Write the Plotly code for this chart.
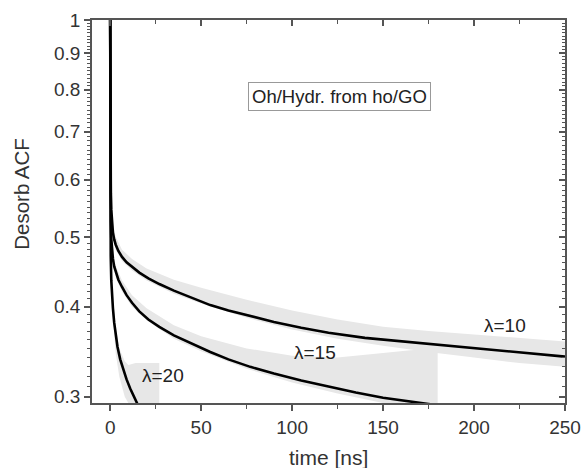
import numpy as np
import plotly.graph_objects as go

# Fitted curves (black)
t10 = [0, 0.05, 0.1, 0.2, 0.35, 0.6, 1, 1.5, 2.2, 3, 4.5, 6.5, 9, 12, 16, 21, 27, 35, 45, 55, 65, 77, 90, 105, 120, 140, 160, 180, 200, 225, 250]
v10 = [1.0, 0.8, 0.7, 0.62, 0.575, 0.545, 0.522, 0.507, 0.496, 0.488, 0.478, 0.469, 0.461, 0.454, 0.446, 0.438, 0.43, 0.421, 0.411, 0.402, 0.395, 0.388, 0.381, 0.374, 0.368, 0.362, 0.358, 0.354, 0.35, 0.345, 0.341]

t15 = [0, 0.05, 0.1, 0.2, 0.35, 0.6, 1, 1.5, 2.2, 3, 4.5, 6.5, 9, 12, 16, 21, 27, 35, 45, 55, 65, 77, 90, 105, 120, 135, 150, 165, 175, 185]
v15 = [1.0, 0.75, 0.65, 0.57, 0.525, 0.497, 0.479, 0.466, 0.455, 0.447, 0.436, 0.426, 0.415, 0.405, 0.394, 0.384, 0.375, 0.365, 0.355, 0.346, 0.338, 0.33, 0.323, 0.316, 0.31, 0.304, 0.299, 0.295, 0.293, 0.291]

t20 = [0, 0.03, 0.08, 0.15, 0.3, 0.6, 1, 1.5, 2.2, 3, 4, 5.5, 7, 9, 11, 13, 15, 17]
v20 = [1.0, 0.75, 0.6, 0.52, 0.47, 0.435, 0.415, 0.398, 0.38, 0.365, 0.352, 0.338, 0.328, 0.317, 0.308, 0.3, 0.293, 0.287]

# Raw simulation data envelopes (grey noise bands)
g10_t = [0, 0.3, 1, 3, 6.5, 12, 20, 35, 50, 75, 100, 125, 150, 175, 200, 225, 250]
g10_lo = [1.0, 0.56, 0.51, 0.48, 0.463, 0.449, 0.435, 0.417, 0.404, 0.386, 0.372, 0.361, 0.353, 0.346, 0.34, 0.334, 0.33]
g10_hi = [1.0, 0.60, 0.53, 0.50, 0.48, 0.466, 0.452, 0.436, 0.425, 0.409, 0.395, 0.384, 0.375, 0.37, 0.366, 0.362, 0.358]

g15_t = [0, 0.3, 1, 3, 6.5, 12, 20, 35, 50, 75, 100, 125, 150, 165, 180]
g15_lo = [1.0, 0.52, 0.47, 0.44, 0.42, 0.40, 0.383, 0.361, 0.347, 0.328, 0.314, 0.303, 0.294, 0.294, 0.294]
g15_hi = [1.0, 0.55, 0.49, 0.456, 0.435, 0.415, 0.398, 0.377, 0.364, 0.35, 0.342, 0.34, 0.345, 0.348, 0.35]

g20_t = [0, 0.3, 1, 3, 5, 8, 10, 14, 20, 27]
g20_lo = [1.0, 0.45, 0.40, 0.345, 0.32, 0.30, 0.294, 0.294, 0.294, 0.294]
g20_hi = [1.0, 0.49, 0.43, 0.375, 0.35, 0.336, 0.332, 0.334, 0.334, 0.334]

x_ticks = [0, 50, 100, 150, 200, 250]
x_minor = [25, 75, 125, 175, 225]
y_ticks = [0.3, 0.4, 0.5, 0.6, 0.7, 0.8, 0.9, 1.0]
y_labels = ["0.3", "0.4", "0.5", "0.6", "0.7", "0.8", "0.9", "1"]
y_minor = [round(0.30 + 0.01 * i, 2) for i in range(71)]

labels = [("λ=10", 217, 0.377), ("λ=15", 112.6, 0.345), ("λ=20", 29, 0.3214)]
box_text = "Oh/Hydr. from ho/GO"
x_title = "time [ns]"
y_title = "Desorb ACF"

GREY = "#e7e7e7"
AX = "#555555"
FONT = "Liberation Sans, Arial, sans-serif"

fig = go.Figure()

for gt, hi, lo in [(g10_t, g10_hi, g10_lo), (g15_t, g15_hi, g15_lo), (g20_t, g20_hi, g20_lo)]:
    fig.add_trace(go.Scatter(x=gt, y=lo, mode="lines", line=dict(width=0, color=GREY),
                             showlegend=False, hoverinfo="skip"))
    fig.add_trace(go.Scatter(x=gt, y=hi, mode="lines", line=dict(width=0, color=GREY),
                             fill="tonexty", fillcolor=GREY, showlegend=False, hoverinfo="skip"))

for tt, vv in [(t10, v10), (t15, v15), (t20, v20)]:
    fig.add_trace(go.Scatter(x=tt, y=vv, mode="lines", line=dict(color="black", width=2.6),
                             showlegend=False))

# dummy trace for mirrored axes
fig.add_trace(go.Scatter(x=[None], y=[None], xaxis="x2", yaxis="y2", showlegend=False))

for txt, x, y in labels:
    fig.add_annotation(x=x, y=np.log10(y), text=txt, showarrow=False,
                       font=dict(size=19, color="#222", family=FONT))

fig.add_annotation(x=126, y=np.log10(0.784), text=box_text, showarrow=False,
                   font=dict(size=18.5, color="#222", family=FONT),
                   bordercolor="#999", borderwidth=1, borderpad=3, bgcolor="white")

fig.add_annotation(xref="paper", yref="paper", x=0.5, y=-0.1436, text=x_title, showarrow=False,
                   xanchor="center", yanchor="middle", font=dict(size=21, color="#333", family=FONT))
fig.add_annotation(xref="paper", yref="paper", x=-0.149, y=0.545, text=y_title, showarrow=False,
                   textangle=-90, xanchor="center", yanchor="middle",
                   font=dict(size=20.5, color="#333", family=FONT))

yr = [np.log10(0.294), 0]
xr = [-10, 250]

fig.update_layout(
    width=582, height=468,
    margin=dict(l=92, r=17, t=20, b=65),
    paper_bgcolor="white", plot_bgcolor="white",
    font=dict(family=FONT, size=19, color="#333"),
    xaxis=dict(range=xr, tickvals=x_ticks, ticks="outside", ticklen=6, tickwidth=1.5,
               tickcolor=AX, showline=True, linecolor=AX, linewidth=1.5, showgrid=False,
               zeroline=False, automargin=False, ticklabeloverflow="allow",
               minor=dict(tickvals=x_minor, ticks="outside", ticklen=4, tickcolor=AX, tickwidth=1.2)),
    xaxis2=dict(range=xr, overlaying="x", side="top", tickvals=x_ticks, ticks="inside", ticklen=6,
                tickwidth=1.5, tickcolor=AX, showline=True, linecolor=AX, linewidth=1.5,
                showticklabels=False, showgrid=False, zeroline=False, automargin=False,
                minor=dict(tickvals=x_minor, ticks="inside", ticklen=4, tickcolor=AX, tickwidth=1.2)),
    yaxis=dict(type="log", range=yr, tickvals=y_ticks, ticktext=y_labels, ticks="outside",
               ticklen=6, tickwidth=1.5, tickcolor=AX, showline=True, linecolor=AX, linewidth=1.5,
               showgrid=False, zeroline=False, automargin=False,
               minor=dict(tickvals=y_minor, ticks="outside", ticklen=3, tickcolor=AX, tickwidth=1)),
    yaxis2=dict(type="log", range=yr, overlaying="y", side="right", tickvals=y_ticks, ticks="inside",
                ticklen=6, tickwidth=1.5, tickcolor=AX, showline=True, linecolor=AX, linewidth=1.5,
                showticklabels=False, showgrid=False, zeroline=False, automargin=False,
                minor=dict(tickvals=y_minor, ticks="inside", ticklen=3, tickcolor=AX, tickwidth=1)),
)

fig.write_html("out.html", config={"displayModeBar": False},
               post_script="document.body.style.margin='0px';document.body.style.overflow='hidden';")
